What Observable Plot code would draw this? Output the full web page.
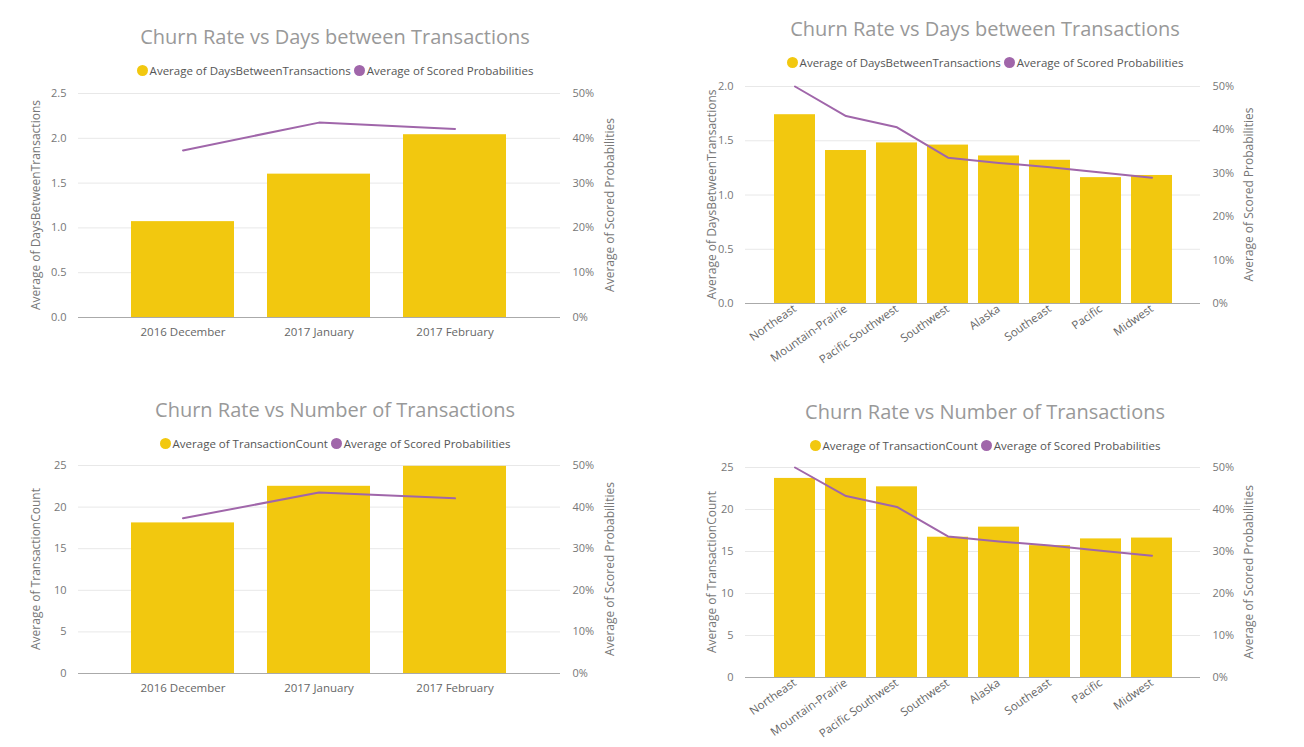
<!DOCTYPE html>
<html><head><meta charset="utf-8">
<script src="https://cdn.jsdelivr.net/npm/d3@7"></script>
<script src="https://cdn.jsdelivr.net/npm/@observablehq/plot@0.6"></script>
<style>
body{margin:0;background:#fff;font-family:"Open Sans",sans-serif;}
.panel{position:absolute;}
.title{text-align:center;color:#999;font-size:20px;height:28px;line-height:28px;}
.legend{text-align:center;color:#555;font-size:11.5px;margin-top:12px;height:16px;}
.legend span{display:inline-block;width:11px;height:11px;border-radius:50%;vertical-align:-1px;margin-right:2px;}
</style></head><body>
<script>
const months = ["2016 December", "2017 January", "2017 February"]
const monthDays = [1.07, 1.60, 2.04]
const monthCount = [18.1, 22.5, 24.9]
const monthProb = [0.373, 0.435, 0.421]

const regions = ["Northeast", "Mountain-Prairie", "Pacific Southwest", "Southwest", "Alaska", "Southeast", "Pacific", "Midwest"]
const regionDays = [1.74, 1.41, 1.48, 1.46, 1.36, 1.32, 1.16, 1.18]
const regionCount = [23.7, 23.7, 22.7, 16.7, 17.9, 15.7, 16.5, 16.6]
const regionProb = [0.50, 0.432, 0.406, 0.336, 0.324, 0.314, 0.302, 0.29]

const pctTicks = [0, 0.1, 0.2, 0.3, 0.4, 0.5]
const gold = "#f2c80f", purple = "#a066aa"

function panel(o) {
  const div = d3.select("body").append("div").attr("class", "panel")
    .style("left", o.left + "px").style("top", o.top + "px").style("width", o.width + "px")
  div.append("div").attr("class", "title").text(o.title)
  div.append("div").attr("class", "legend").html(
    `<span style="background:${gold}"></span>${o.barName}&nbsp;<span style="background:${purple}"></span>Average of Scored Probabilities`)
  const k = o.ymax / 0.5
  const data = o.cats.map((c, i) => ({c, v: o.vals[i], p: o.prob[i] * k}))
  const rot = o.rotate
  const chart = Plot.plot({
    width: o.width, height: o.height,
    marginTop: o.mt, marginBottom: o.mb, marginLeft: o.ml, marginRight: o.mr,
    style: {fontFamily: "Open Sans", fontSize: "11px", color: "#777"},
    x: {domain: o.cats, paddingInner: o.pi, paddingOuter: o.po, label: null},
    y: {domain: [0, o.ymax], label: null},
    marks: [
      Plot.gridY(o.ticks, {stroke: "#e8e8e8", strokeOpacity: 1}),
      Plot.barY(data, {x: "c", y: "v", fill: gold}),
      Plot.ruleY([0], {stroke: "#aaa"}),
      Plot.line(data, {x: "c", y: "p", stroke: purple, strokeWidth: 2}),
      Plot.axisX({tickSize: 0, tickPadding: rot ? 4 : 10, tickRotate: rot ? -35 : 0, textAnchor: rot ? "end" : "middle", fill: "#666", fontSize: 11.5}),
      Plot.axisY(o.ticks, {tickSize: 0, tickPadding: 12, tickFormat: o.fmt, fill: "#777", label: null}),
      Plot.axisY(pctTicks.map(p => p * k), {anchor: "right", tickSize: 0, tickPadding: 12, tickFormat: v => Math.round(v / k * 100) + "%", fill: "#777", label: null})
    ]
  })
  const svg = d3.select(chart)
  const cy = o.mt + (o.height - o.mt - o.mb) / 2
  svg.append("text").attr("transform", `translate(${o.lx},${cy}) rotate(-90)`)
    .attr("text-anchor", "middle").attr("fill", "#777").style("font-size", "12px").text(o.yLabel)
  svg.append("text").attr("transform", `translate(${o.rx},${cy}) rotate(-90)`)
    .attr("text-anchor", "middle").attr("fill", "#777").style("font-size", "12px").text("Average of Scored Probabilities")
  div.node().append(chart)
}

panel({left: 20, top: 23, width: 630, height: 276, mt: 14, mb: 38, ml: 58, mr: 90, lx: 20, rx: 594, pi: 0.24, po: 0.39, title: "Churn Rate vs Days between Transactions", barName: "Average of DaysBetweenTransactions", cats: months, vals: monthDays, prob: monthProb, ymax: 2.5, ticks: [0, 0.5, 1, 1.5, 2, 2.5], fmt: d3.format(".1f"), yLabel: "Average of DaysBetweenTransactions", rotate: false})
panel({left: 685, top: 15, width: 600, height: 322, mt: 15, mb: 90, ml: 60, mr: 85, lx: 31, rx: 568, pi: 0.2, po: 0.5, title: "Churn Rate vs Days between Transactions", barName: "Average of DaysBetweenTransactions", cats: regions, vals: regionDays, prob: regionProb, ymax: 2.0, ticks: [0, 0.5, 1, 1.5, 2], fmt: d3.format(".1f"), yLabel: "Average of DaysBetweenTransactions", rotate: true})
panel({left: 20, top: 396, width: 630, height: 259, mt: 13, mb: 38, ml: 58, mr: 90, lx: 20, rx: 594, pi: 0.24, po: 0.39, title: "Churn Rate vs Number of Transactions", barName: "Average of TransactionCount", cats: months, vals: monthCount, prob: monthProb, ymax: 25, ticks: [0, 5, 10, 15, 20, 25], fmt: d3.format("d"), yLabel: "Average of TransactionCount", rotate: false})
panel({left: 685, top: 398, width: 600, height: 308, mt: 13, mb: 85, ml: 60, mr: 85, lx: 31, rx: 568, pi: 0.2, po: 0.5, title: "Churn Rate vs Number of Transactions", barName: "Average of TransactionCount", cats: regions, vals: regionCount, prob: regionProb, ymax: 25, ticks: [0, 5, 10, 15, 20, 25], fmt: d3.format("d"), yLabel: "Average of TransactionCount", rotate: true})
</script>
</body></html>
